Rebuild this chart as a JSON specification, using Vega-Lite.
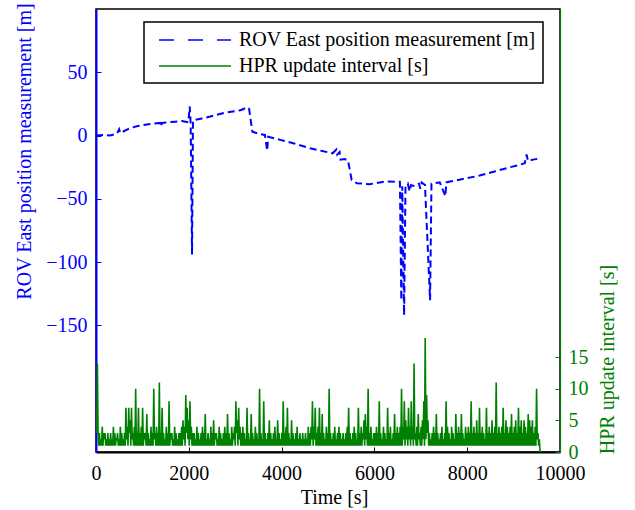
{
  "$schema": "https://vega.github.io/schema/vega-lite/v6.json",
  "width": 464,
  "height": 443,
  "autosize": {"type": "none"},
  "padding": {"left": 96, "top": 9, "right": 75, "bottom": 58},
  "background": "white",
  "config": {
    "view": {"stroke": "black", "strokeWidth": 1.5},
    "font": "Liberation Serif",
    "axis": {
      "grid": false,
      "labelFont": "Liberation Serif",
      "labelFontSize": 20,
      "titleFont": "Liberation Serif",
      "titleFontSize": 20,
      "titleFontWeight": "normal",
      "tickSize": -5,
      "tickWidth": 1,
      "labelOverlap": false,
      "labelFlush": false
    }
  },
  "datasets": {
    "rov": [
      {"t":0,"v":0},{"t":150,"v":0.5},{"t":300,"v":0},{"t":450,"v":1.5},{"t":500,"v":5},{"t":520,"v":2},{"t":740,"v":6},{"t":900,"v":7.5},{"t":1060,"v":8.5},{"t":1230,"v":9.5},{"t":1380,"v":10},{"t":1400,"v":7},{"t":1420,"v":10},{"t":1710,"v":11},{"t":1850,"v":11.5},{"t":1990,"v":10.5},{"t":2020,"v":23},{"t":2040,"v":10},{"t":2070,"v":-94},{"t":2090,"v":12},{"t":2280,"v":13.5},{"t":2460,"v":15},{"t":2780,"v":18},{"t":2950,"v":19},{"t":3110,"v":20},{"t":3180,"v":21},{"t":3250,"v":22.5},{"t":3300,"v":21},{"t":3370,"v":3},{"t":3500,"v":1.5},{"t":3640,"v":0.5},{"t":3690,"v":-12},{"t":3710,"v":-1},{"t":3970,"v":-3.4},{"t":4290,"v":-6.5},{"t":4610,"v":-10},{"t":4850,"v":-12},{"t":5100,"v":-14},{"t":5180,"v":-11},{"t":5200,"v":-15},{"t":5250,"v":-13},{"t":5270,"v":-19},{"t":5360,"v":-18.6},{"t":5430,"v":-19.5},{"t":5510,"v":-35},{"t":5620,"v":-37.6},{"t":5900,"v":-38.4},{"t":6230,"v":-36.3},{"t":6550,"v":-36.5},{"t":6580,"v":-130},{"t":6600,"v":-40},{"t":6640,"v":-142},{"t":6670,"v":-40},{"t":6720,"v":-38},{"t":6760,"v":-44},{"t":6790,"v":-39},{"t":6870,"v":-40},{"t":6960,"v":-38},{"t":6990,"v":-42},{"t":7020,"v":-37},{"t":7090,"v":-39},{"t":7200,"v":-130},{"t":7230,"v":-38},{"t":7410,"v":-37},{"t":7530,"v":-48},{"t":7550,"v":-37},{"t":7630,"v":-36.3},{"t":7950,"v":-34},{"t":8270,"v":-31.6},{"t":8590,"v":-28.4},{"t":8920,"v":-25},{"t":9100,"v":-23.5},{"t":9240,"v":-21.8},{"t":9280,"v":-15},{"t":9310,"v":-20},{"t":9420,"v":-19},{"t":9510,"v":-18.4}
    ],
    "hpr": [
      {"t":0,"v":7},{"t":15,"v":3},{"t":30,"v":14},{"t":45,"v":3},{"t":60,"v":1},{"t":75,"v":3},{"t":90,"v":1},{"t":105,"v":2},{"t":120,"v":1},{"t":135,"v":4},{"t":150,"v":1},{"t":165,"v":3},{"t":180,"v":2},{"t":195,"v":3},{"t":210,"v":1},{"t":225,"v":2},{"t":240,"v":1},{"t":255,"v":3},{"t":270,"v":1},{"t":285,"v":2},
      {"t":300,"v":1},{"t":315,"v":3},{"t":330,"v":1},{"t":345,"v":2},{"t":360,"v":1},{"t":375,"v":4},{"t":390,"v":1},{"t":405,"v":3},{"t":420,"v":1},{"t":435,"v":2},{"t":450,"v":2},{"t":465,"v":3},{"t":480,"v":1},{"t":495,"v":2},{"t":510,"v":1},{"t":525,"v":4},{"t":540,"v":1},{"t":555,"v":3},{"t":570,"v":1},{"t":585,"v":2},
      {"t":600,"v":1},{"t":615,"v":3},{"t":630,"v":1},{"t":645,"v":7},{"t":660,"v":2},{"t":675,"v":4},{"t":690,"v":1},{"t":705,"v":7},{"t":720,"v":3},{"t":735,"v":5},{"t":750,"v":1},{"t":765,"v":7},{"t":780,"v":2},{"t":795,"v":3},{"t":810,"v":1},{"t":825,"v":4},{"t":840,"v":1},{"t":855,"v":10},{"t":870,"v":1},{"t":885,"v":3},
      {"t":900,"v":1},{"t":915,"v":7},{"t":930,"v":1},{"t":945,"v":3},{"t":960,"v":1},{"t":975,"v":4},{"t":990,"v":1},{"t":1005,"v":7},{"t":1020,"v":1},{"t":1035,"v":3},{"t":1050,"v":2},{"t":1065,"v":3},{"t":1080,"v":1},{"t":1095,"v":6},{"t":1110,"v":1},{"t":1125,"v":3},{"t":1140,"v":1},{"t":1155,"v":2},{"t":1170,"v":1},{"t":1185,"v":4},
      {"t":1200,"v":1},{"t":1215,"v":3},{"t":1230,"v":1},{"t":1245,"v":10},{"t":1260,"v":2},{"t":1275,"v":3},{"t":1290,"v":1},{"t":1305,"v":4},{"t":1320,"v":1},{"t":1335,"v":3},{"t":1350,"v":1},{"t":1365,"v":11},{"t":1380,"v":1},{"t":1395,"v":3},{"t":1410,"v":1},{"t":1425,"v":7},{"t":1440,"v":1},{"t":1455,"v":3},{"t":1470,"v":1},{"t":1485,"v":2},
      {"t":1500,"v":1},{"t":1515,"v":4},{"t":1530,"v":1},{"t":1545,"v":3},{"t":1560,"v":1},{"t":1575,"v":8},{"t":1590,"v":1},{"t":1605,"v":3},{"t":1620,"v":2},{"t":1635,"v":3},{"t":1650,"v":1},{"t":1665,"v":2},{"t":1680,"v":1},{"t":1695,"v":4},{"t":1710,"v":1},{"t":1725,"v":3},{"t":1740,"v":1},{"t":1755,"v":2},{"t":1770,"v":1},{"t":1785,"v":3},
      {"t":1800,"v":1},{"t":1815,"v":3},{"t":1830,"v":1},{"t":1845,"v":4},{"t":1860,"v":1},{"t":1875,"v":5},{"t":1890,"v":2},{"t":1905,"v":4},{"t":1920,"v":1},{"t":1935,"v":9},{"t":1950,"v":3},{"t":1965,"v":7},{"t":1980,"v":2},{"t":1995,"v":5},{"t":2010,"v":1},{"t":2025,"v":8},{"t":2040,"v":2},{"t":2055,"v":4},{"t":2070,"v":1},{"t":2085,"v":3},
      {"t":2100,"v":1},{"t":2115,"v":3},{"t":2130,"v":1},{"t":2145,"v":2},{"t":2160,"v":1},{"t":2175,"v":4},{"t":2190,"v":1},{"t":2205,"v":3},{"t":2220,"v":1},{"t":2235,"v":2},{"t":2250,"v":1},{"t":2265,"v":3},{"t":2280,"v":1},{"t":2295,"v":4},{"t":2310,"v":1},{"t":2325,"v":3},{"t":2340,"v":1},{"t":2355,"v":6},{"t":2370,"v":1},{"t":2385,"v":2},
      {"t":2400,"v":1},{"t":2415,"v":3},{"t":2430,"v":1},{"t":2445,"v":2},{"t":2460,"v":1},{"t":2475,"v":4},{"t":2490,"v":1},{"t":2505,"v":3},{"t":2520,"v":1},{"t":2535,"v":5},{"t":2550,"v":1},{"t":2565,"v":3},{"t":2580,"v":2},{"t":2595,"v":3},{"t":2610,"v":1},{"t":2625,"v":2},{"t":2640,"v":1},{"t":2655,"v":4},{"t":2670,"v":1},{"t":2685,"v":3},
      {"t":2700,"v":1},{"t":2715,"v":2},{"t":2730,"v":1},{"t":2745,"v":3},{"t":2760,"v":1},{"t":2775,"v":4},{"t":2790,"v":1},{"t":2805,"v":3},{"t":2820,"v":1},{"t":2835,"v":6},{"t":2850,"v":1},{"t":2865,"v":3},{"t":2880,"v":1},{"t":2895,"v":2},{"t":2910,"v":1},{"t":2925,"v":4},{"t":2940,"v":1},{"t":2955,"v":3},{"t":2970,"v":2},{"t":2985,"v":4},
      {"t":3000,"v":1},{"t":3015,"v":8},{"t":3030,"v":3},{"t":3045,"v":5},{"t":3060,"v":1},{"t":3075,"v":7},{"t":3090,"v":2},{"t":3105,"v":4},{"t":3120,"v":1},{"t":3135,"v":3},{"t":3150,"v":1},{"t":3165,"v":4},{"t":3180,"v":1},{"t":3195,"v":3},{"t":3210,"v":1},{"t":3225,"v":2},{"t":3240,"v":1},{"t":3255,"v":7},{"t":3270,"v":1},{"t":3285,"v":3},
      {"t":3300,"v":1},{"t":3315,"v":2},{"t":3330,"v":1},{"t":3345,"v":6},{"t":3360,"v":1},{"t":3375,"v":3},{"t":3390,"v":1},{"t":3405,"v":2},{"t":3420,"v":1},{"t":3435,"v":4},{"t":3450,"v":1},{"t":3465,"v":3},{"t":3480,"v":1},{"t":3495,"v":2},{"t":3510,"v":1},{"t":3525,"v":10},{"t":3540,"v":1},{"t":3555,"v":3},{"t":3570,"v":1},{"t":3585,"v":2},
      {"t":3600,"v":1},{"t":3615,"v":8},{"t":3630,"v":1},{"t":3645,"v":3},{"t":3660,"v":1},{"t":3675,"v":2},{"t":3690,"v":1},{"t":3705,"v":3},{"t":3720,"v":1},{"t":3735,"v":5},{"t":3750,"v":1},{"t":3765,"v":3},{"t":3780,"v":1},{"t":3795,"v":2},{"t":3810,"v":1},{"t":3825,"v":3},{"t":3840,"v":1},{"t":3855,"v":4},{"t":3870,"v":1},{"t":3885,"v":2},
      {"t":3900,"v":1},{"t":3915,"v":5},{"t":3930,"v":1},{"t":3945,"v":3},{"t":3960,"v":1},{"t":3975,"v":2},{"t":3990,"v":1},{"t":4005,"v":3},{"t":4020,"v":1},{"t":4035,"v":8},{"t":4050,"v":1},{"t":4065,"v":3},{"t":4080,"v":1},{"t":4095,"v":4},{"t":4110,"v":1},{"t":4125,"v":7},{"t":4140,"v":1},{"t":4155,"v":3},{"t":4170,"v":1},{"t":4185,"v":2},
      {"t":4200,"v":1},{"t":4215,"v":5},{"t":4230,"v":1},{"t":4245,"v":3},{"t":4260,"v":1},{"t":4275,"v":2},{"t":4290,"v":1},{"t":4305,"v":3},{"t":4320,"v":1},{"t":4335,"v":4},{"t":4350,"v":1},{"t":4365,"v":2},{"t":4380,"v":1},{"t":4395,"v":3},{"t":4410,"v":1},{"t":4425,"v":2},{"t":4440,"v":1},{"t":4455,"v":3},{"t":4470,"v":1},{"t":4485,"v":2},
      {"t":4500,"v":1},{"t":4515,"v":3},{"t":4530,"v":1},{"t":4545,"v":2},{"t":4560,"v":1},{"t":4575,"v":4},{"t":4590,"v":1},{"t":4605,"v":3},{"t":4620,"v":1},{"t":4635,"v":4},{"t":4650,"v":2},{"t":4665,"v":8},{"t":4680,"v":1},{"t":4695,"v":4},{"t":4710,"v":2},{"t":4725,"v":7},{"t":4740,"v":1},{"t":4755,"v":3},{"t":4770,"v":1},{"t":4785,"v":4},
      {"t":4800,"v":1},{"t":4815,"v":7},{"t":4830,"v":1},{"t":4845,"v":3},{"t":4860,"v":1},{"t":4875,"v":6},{"t":4890,"v":1},{"t":4905,"v":3},{"t":4920,"v":1},{"t":4935,"v":2},{"t":4950,"v":1},{"t":4965,"v":4},{"t":4980,"v":1},{"t":4995,"v":3},{"t":5010,"v":1},{"t":5025,"v":10},{"t":5040,"v":1},{"t":5055,"v":3},{"t":5070,"v":1},{"t":5085,"v":2},
      {"t":5100,"v":1},{"t":5115,"v":3},{"t":5130,"v":1},{"t":5145,"v":4},{"t":5160,"v":1},{"t":5175,"v":2},{"t":5190,"v":1},{"t":5205,"v":3},{"t":5220,"v":1},{"t":5235,"v":4},{"t":5250,"v":1},{"t":5265,"v":3},{"t":5280,"v":1},{"t":5295,"v":2},{"t":5310,"v":1},{"t":5325,"v":3},{"t":5340,"v":1},{"t":5355,"v":2},{"t":5370,"v":1},{"t":5385,"v":3},
      {"t":5400,"v":1},{"t":5415,"v":4},{"t":5430,"v":1},{"t":5445,"v":7},{"t":5460,"v":1},{"t":5475,"v":3},{"t":5490,"v":1},{"t":5505,"v":2},{"t":5520,"v":1},{"t":5535,"v":3},{"t":5550,"v":1},{"t":5565,"v":4},{"t":5580,"v":1},{"t":5595,"v":3},{"t":5610,"v":1},{"t":5625,"v":2},{"t":5640,"v":1},{"t":5655,"v":7},{"t":5670,"v":1},{"t":5685,"v":3},
      {"t":5700,"v":1},{"t":5715,"v":4},{"t":5730,"v":1},{"t":5745,"v":3},{"t":5760,"v":2},{"t":5775,"v":5},{"t":5790,"v":1},{"t":5805,"v":6},{"t":5820,"v":2},{"t":5835,"v":4},{"t":5850,"v":1},{"t":5865,"v":10},{"t":5880,"v":1},{"t":5895,"v":3},{"t":5910,"v":1},{"t":5925,"v":4},{"t":5940,"v":1},{"t":5955,"v":2},{"t":5970,"v":1},{"t":5985,"v":3},
      {"t":6000,"v":1},{"t":6015,"v":3},{"t":6030,"v":1},{"t":6045,"v":4},{"t":6060,"v":1},{"t":6075,"v":3},{"t":6090,"v":1},{"t":6105,"v":8},{"t":6120,"v":1},{"t":6135,"v":3},{"t":6150,"v":1},{"t":6165,"v":2},{"t":6180,"v":1},{"t":6195,"v":4},{"t":6210,"v":1},{"t":6225,"v":3},{"t":6240,"v":1},{"t":6255,"v":2},{"t":6270,"v":1},{"t":6285,"v":7},
      {"t":6300,"v":1},{"t":6315,"v":3},{"t":6330,"v":1},{"t":6345,"v":4},{"t":6360,"v":1},{"t":6375,"v":2},{"t":6390,"v":1},{"t":6405,"v":3},{"t":6420,"v":1},{"t":6435,"v":6},{"t":6450,"v":1},{"t":6465,"v":3},{"t":6480,"v":1},{"t":6495,"v":4},{"t":6510,"v":1},{"t":6525,"v":3},{"t":6540,"v":1},{"t":6555,"v":4},{"t":6570,"v":1},{"t":6585,"v":10},
      {"t":6600,"v":1},{"t":6615,"v":4},{"t":6630,"v":2},{"t":6645,"v":8},{"t":6660,"v":1},{"t":6675,"v":5},{"t":6690,"v":2},{"t":6705,"v":4},{"t":6720,"v":1},{"t":6735,"v":7},{"t":6750,"v":2},{"t":6765,"v":4},{"t":6780,"v":1},{"t":6795,"v":8},{"t":6810,"v":2},{"t":6825,"v":4},{"t":6840,"v":1},{"t":6855,"v":14},{"t":6870,"v":2},{"t":6885,"v":3},
      {"t":6900,"v":1},{"t":6915,"v":4},{"t":6930,"v":1},{"t":6945,"v":6},{"t":6960,"v":2},{"t":6975,"v":3},{"t":6990,"v":1},{"t":7005,"v":4},{"t":7020,"v":1},{"t":7035,"v":5},{"t":7050,"v":2},{"t":7065,"v":8},{"t":7080,"v":1},{"t":7095,"v":18},{"t":7110,"v":2},{"t":7125,"v":9},{"t":7140,"v":3},{"t":7155,"v":5},{"t":7170,"v":1},{"t":7185,"v":3},
      {"t":7200,"v":1},{"t":7215,"v":2},{"t":7230,"v":1},{"t":7245,"v":3},{"t":7260,"v":1},{"t":7275,"v":4},{"t":7290,"v":1},{"t":7305,"v":3},{"t":7320,"v":1},{"t":7335,"v":6},{"t":7350,"v":1},{"t":7365,"v":3},{"t":7380,"v":1},{"t":7395,"v":2},{"t":7410,"v":1},{"t":7425,"v":3},{"t":7440,"v":1},{"t":7455,"v":4},{"t":7470,"v":1},{"t":7485,"v":2},
      {"t":7500,"v":1},{"t":7515,"v":3},{"t":7530,"v":1},{"t":7545,"v":8},{"t":7560,"v":1},{"t":7575,"v":4},{"t":7590,"v":1},{"t":7605,"v":3},{"t":7620,"v":1},{"t":7635,"v":2},{"t":7650,"v":1},{"t":7665,"v":4},{"t":7680,"v":1},{"t":7695,"v":3},{"t":7710,"v":1},{"t":7725,"v":2},{"t":7740,"v":1},{"t":7755,"v":6},{"t":7770,"v":1},{"t":7785,"v":3},
      {"t":7800,"v":1},{"t":7815,"v":4},{"t":7830,"v":1},{"t":7845,"v":3},{"t":7860,"v":1},{"t":7875,"v":6},{"t":7890,"v":1},{"t":7905,"v":3},{"t":7920,"v":1},{"t":7935,"v":2},{"t":7950,"v":1},{"t":7965,"v":4},{"t":7980,"v":1},{"t":7995,"v":3},{"t":8010,"v":1},{"t":8025,"v":4},{"t":8040,"v":1},{"t":8055,"v":3},{"t":8070,"v":1},{"t":8085,"v":8},
      {"t":8100,"v":1},{"t":8115,"v":3},{"t":8130,"v":1},{"t":8145,"v":4},{"t":8160,"v":1},{"t":8175,"v":3},{"t":8190,"v":1},{"t":8205,"v":5},{"t":8220,"v":1},{"t":8235,"v":3},{"t":8250,"v":1},{"t":8265,"v":7},{"t":8280,"v":1},{"t":8295,"v":3},{"t":8310,"v":1},{"t":8325,"v":4},{"t":8340,"v":1},{"t":8355,"v":3},{"t":8370,"v":1},{"t":8385,"v":2},
      {"t":8400,"v":1},{"t":8415,"v":7},{"t":8430,"v":1},{"t":8445,"v":3},{"t":8460,"v":1},{"t":8475,"v":4},{"t":8490,"v":1},{"t":8505,"v":3},{"t":8520,"v":1},{"t":8535,"v":5},{"t":8550,"v":1},{"t":8565,"v":3},{"t":8580,"v":1},{"t":8595,"v":4},{"t":8610,"v":1},{"t":8625,"v":11},{"t":8640,"v":1},{"t":8655,"v":3},{"t":8670,"v":1},{"t":8685,"v":4},
      {"t":8700,"v":1},{"t":8715,"v":3},{"t":8730,"v":1},{"t":8745,"v":4},{"t":8760,"v":1},{"t":8775,"v":7},{"t":8790,"v":1},{"t":8805,"v":3},{"t":8820,"v":1},{"t":8835,"v":5},{"t":8850,"v":1},{"t":8865,"v":4},{"t":8880,"v":1},{"t":8895,"v":3},{"t":8910,"v":1},{"t":8925,"v":4},{"t":8940,"v":1},{"t":8955,"v":6},{"t":8970,"v":1},{"t":8985,"v":3},
      {"t":9000,"v":1},{"t":9015,"v":4},{"t":9030,"v":1},{"t":9045,"v":5},{"t":9060,"v":1},{"t":9075,"v":3},{"t":9090,"v":1},{"t":9105,"v":7},{"t":9120,"v":1},{"t":9135,"v":4},{"t":9150,"v":1},{"t":9165,"v":5},{"t":9180,"v":1},{"t":9195,"v":3},{"t":9210,"v":1},{"t":9225,"v":5},{"t":9240,"v":1},{"t":9255,"v":4},{"t":9270,"v":1},{"t":9285,"v":3},
      {"t":9300,"v":1},{"t":9315,"v":6},{"t":9330,"v":1},{"t":9345,"v":5},{"t":9360,"v":1},{"t":9375,"v":4},{"t":9390,"v":1},{"t":9405,"v":5},{"t":9420,"v":1},{"t":9435,"v":3},{"t":9450,"v":1},{"t":9465,"v":4},{"t":9480,"v":1},{"t":9495,"v":10},{"t":9510,"v":2},{"t":9525,"v":3},{"t":9540,"v":1},{"t":9555,"v":2},{"t":9570,"v":0}
    ]
  },
  "layer": [
    {
      "data": {"name": "rov"},
      "mark": {"type": "line", "strokeDash": [7, 4], "strokeWidth": 2, "clip": true},
      "encoding": {
        "x": {
          "field": "t", "type": "quantitative",
          "scale": {"domain": [0, 10000], "nice": false, "zero": false},
          "axis": {
            "values": [0, 2000, 4000, 6000, 8000, 10000],
            "format": "d",
            "title": "Time [s]",
            "titleX": 238, "titleY": 51, "titleAlign": "center", "titleBaseline": "alphabetic",
            "titleColor": "black", "labelColor": "black",
            "domainColor": "black", "domainWidth": 2, "tickColor": "black",
            "labelPadding": 16
          }
        },
        "y": {
          "field": "v", "type": "quantitative",
          "scale": {"domain": [-250, 100], "nice": false, "zero": false},
          "axis": {
            "orient": "left",
            "values": [-150, -100, -50, 0, 50],
            "format": "d",
            "title": "ROV East position measurement [m]",
            "titleColor": "#0000ff", "titleAngle": -90,
            "titleX": -66, "titleY": 142, "titleAlign": "center", "titleBaseline": "alphabetic",
            "labelColor": "#0000ff", "domainColor": "#0000ff", "domainWidth": 2, "tickColor": "#0000ff",
            "labelPadding": 14
          }
        },
        "color": {
          "datum": "ROV East position measurement [m]",
          "type": "nominal",
          "scale": {
            "domain": ["ROV East position measurement [m]", "HPR update interval [s]"],
            "range": ["#0000ff", "#008000"]
          },
          "legend": {
            "title": null,
            "orient": "none",
            "legendX": 48,
            "legendY": 13,
            "symbolType": "M-0.3,0H6.9",
            "symbolSize": 400,
            "symbolStrokeWidth": 1.5,
            "labelFont": "Liberation Serif",
            "labelFontSize": 20,
            "labelColor": "black",
            "labelOffset": 66,
            "labelLimit": 0,
            "padding": 7,
            "rowPadding": 5,
            "strokeColor": "black",
            "fillColor": "white",
            "encode": {
              "legend": {"update": {"strokeWidth": {"value": 1.5}}},
              "symbols": {"update": {"strokeDash": {"signal": "datum.value === 'HPR update interval [s]' ? [1, 0] : [15, 14]"}}}
            }
          }
        }
      }
    },
    {
      "data": {"name": "hpr"},
      "mark": {"type": "line", "strokeWidth": 1.6, "clip": true},
      "encoding": {
        "x": {"field": "t", "type": "quantitative"},
        "y": {
          "field": "v", "type": "quantitative",
          "scale": {"domain": [0, 70], "nice": false, "zero": false},
          "axis": {
            "orient": "right",
            "values": [0, 5, 10, 15],
            "format": "d",
            "title": "HPR update interval [s]",
            "titleColor": "#008000", "titleAngle": -90,
            "titleX": 53, "titleY": 350, "titleAlign": "center", "titleBaseline": "alphabetic",
            "labelColor": "#008000", "domainColor": "#008000", "domainWidth": 1.2, "tickColor": "#008000",
            "labelPadding": 13
          }
        },
        "color": {"datum": "HPR update interval [s]", "type": "nominal"}
      }
    }
  ],
  "resolve": {"scale": {"y": "independent"}}
}
